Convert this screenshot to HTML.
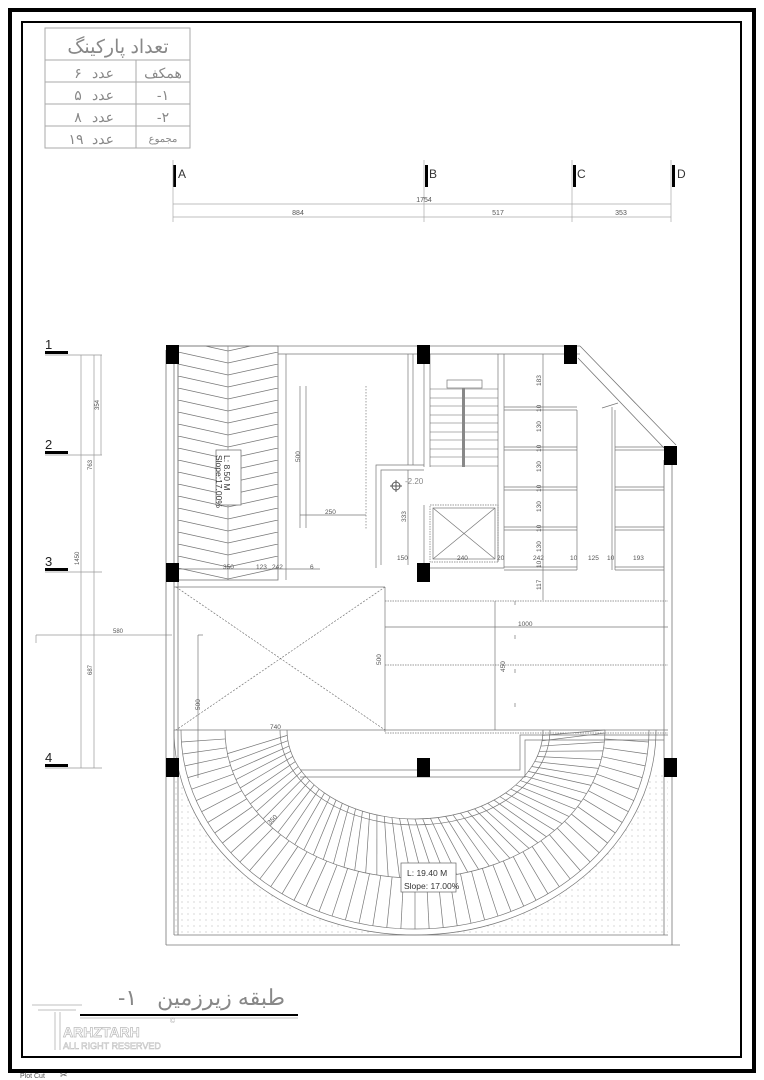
<!DOCTYPE html>
<html><head><meta charset="utf-8"><style>
html,body{margin:0;padding:0;background:#fff}
svg{display:block}
text{font-family:"Liberation Sans",sans-serif;fill:#555}
.fa{font-family:"Liberation Sans","Noto Sans CJK SC",sans-serif;fill:#888}
</style></head><body>
<svg id="s" width="764" height="1080" viewBox="0 0 764 1080" xmlns="http://www.w3.org/2000/svg">
<defs>
<pattern id="chev" x="178" y="340" width="100" height="12" patternUnits="userSpaceOnUse">
<path d="M0 0 L50 11 L100 0" fill="none" stroke="#777" stroke-width="0.8"/>
</pattern>
<pattern id="dots" width="6" height="6" patternUnits="userSpaceOnUse">
<circle cx="2" cy="2" r="0.6" fill="#bbb"/>
</pattern>
<clipPath id="outside"><path d="M174 730 A241 205 0 0 0 656 730 L668 730 L668 935 L174 935 Z" clip-rule="evenodd"/></clipPath>
</defs>
<rect width="764" height="1080" fill="#fff"/>
<rect x="10" y="10" width="744" height="1061" fill="none" stroke="#000" stroke-width="4"/>
<rect x="22" y="22" width="719" height="1035" fill="none" stroke="#000" stroke-width="2"/>
<text x="20" y="1078" font-size="7" fill="#666">Plot Cut</text><text x="60" y="1078" font-size="9" fill="#666">✂</text>

<g stroke="#aaa" stroke-width="1" fill="none">
<rect x="45" y="28" width="145" height="120"/>
<line x1="45" y1="60" x2="190" y2="60"/><line x1="45" y1="82" x2="190" y2="82"/>
<line x1="45" y1="104" x2="190" y2="104"/><line x1="45" y1="126" x2="190" y2="126"/>
<line x1="136" y1="60" x2="136" y2="148"/>
</g>
<g class="fa" text-anchor="middle">
<text x="118" y="53" font-size="19" class="fa">تعداد پارکینگ</text>
<text x="103" y="78" font-size="14" class="fa">عدد</text><text x="78" y="78" font-size="14" class="fa">۶</text><text x="163" y="78" font-size="14" class="fa">همکف</text>
<text x="103" y="100" font-size="14" class="fa">عدد</text><text x="78" y="100" font-size="14" class="fa">۵</text><text x="163" y="100" font-size="14" class="fa">-۱</text>
<text x="103" y="122" font-size="14" class="fa">عدد</text><text x="78" y="122" font-size="14" class="fa">۸</text><text x="163" y="122" font-size="14" class="fa">-۲</text>
<text x="103" y="144" font-size="14" class="fa">عدد</text><text x="76" y="144" font-size="14" class="fa">۱۹</text><text x="163" y="142" font-size="10" class="fa">مجموع</text>
</g>

<g fill="#000">
<rect x="173" y="165" width="3" height="22"/><rect x="425" y="165" width="3" height="22"/>
<rect x="573" y="165" width="3" height="22"/><rect x="672" y="165" width="3" height="22"/>
</g>
<g stroke="#aaa" stroke-width="0.7">
<line x1="173" y1="160" x2="173" y2="222"/><line x1="424" y1="160" x2="424" y2="222"/>
<line x1="572" y1="160" x2="572" y2="222"/><line x1="671" y1="160" x2="671" y2="222"/>
<line x1="173" y1="204" x2="671" y2="204"/><line x1="173" y1="217" x2="671" y2="217"/>
</g>
<g font-size="12"><text x="178" y="178" style="fill:#333">A</text><text x="429" y="178" style="fill:#333">B</text><text x="577" y="178" style="fill:#333">C</text><text x="677" y="178" style="fill:#333">D</text></g>
<g font-size="7" text-anchor="middle"><text x="424" y="202">1754</text><text x="298" y="215">884</text><text x="498" y="215">517</text><text x="621" y="215">353</text></g>

<g fill="#000"><rect x="45" y="351" width="23" height="3"/><rect x="45" y="451" width="23" height="3"/><rect x="45" y="568" width="23" height="3"/><rect x="45" y="764" width="23" height="3"/></g>
<g font-size="13"><text x="45" y="349" style="fill:#222">1</text><text x="45" y="449" style="fill:#222">2</text><text x="45" y="566" style="fill:#222">3</text><text x="45" y="762" style="fill:#222">4</text></g>
<g stroke="#999" stroke-width="0.7" fill="none">
<line x1="45" y1="355" x2="102" y2="355"/><line x1="45" y1="455" x2="102" y2="455"/>
<line x1="45" y1="572" x2="102" y2="572"/><line x1="45" y1="768" x2="102" y2="768"/>
<line x1="81" y1="355" x2="81" y2="768"/><line x1="94" y1="355" x2="94" y2="768"/><line x1="101" y1="355" x2="101" y2="455"/>
<line x1="36" y1="635" x2="172" y2="635"/><line x1="36" y1="635" x2="36" y2="643"/>
</g>
<g font-size="6"><text transform="translate(99,410) rotate(-90)">354</text><text transform="translate(92,470) rotate(-90)">763</text><text transform="translate(79,565) rotate(-90)">1450</text><text transform="translate(92,675) rotate(-90)">687</text><text x="113" y="633">580</text></g>

<g stroke="#777" stroke-width="0.8" fill="none">
<line x1="166" y1="350" x2="166" y2="945"/><line x1="178" y1="350" x2="178" y2="935"/>
<line x1="166" y1="945" x2="680" y2="945"/><line x1="174" y1="935" x2="668" y2="935"/>
<line x1="174" y1="346" x2="580" y2="346"/><line x1="278" y1="354" x2="580" y2="354"/>
<line x1="580" y1="346" x2="676" y2="445"/><line x1="578" y1="358" x2="664" y2="448"/>
<line x1="672" y1="450" x2="672" y2="945"/><line x1="664" y1="460" x2="664" y2="935"/>
<line x1="174" y1="346" x2="174" y2="935"/>
</g>
<rect x="178" y="346" width="100" height="234" fill="url(#chev)" stroke="#777" stroke-width="0.8"/>
<line x1="228" y1="346" x2="228" y2="580" stroke="#888" stroke-width="0.7"/>
<rect x="216" y="450" width="25" height="55" fill="#fff" stroke="#666" stroke-width="0.7"/>
<text transform="translate(224,455) rotate(90)" font-size="8.5" style="fill:#333">L: 8.50 M</text>
<text transform="translate(216,455) rotate(90)" font-size="8.5" style="fill:#333">Slope:17.00%</text>

<g stroke="#777" stroke-width="0.7" fill="none">
<line x1="286" y1="354" x2="286" y2="580"/>
<line x1="300" y1="386" x2="300" y2="528"/><line x1="306" y1="386" x2="306" y2="528"/>
<line x1="366" y1="386" x2="366" y2="530" stroke-dasharray="1.5 1.5"/>
<line x1="300" y1="515" x2="366" y2="515"/>
<line x1="176" y1="569" x2="320" y2="569"/>
<line x1="408" y1="354" x2="408" y2="465"/><line x1="413" y1="354" x2="413" y2="465"/>
<polyline points="376,568 376,465 424,465"/><polyline points="381,565 381,470 424,470"/>
<line x1="408" y1="470" x2="408" y2="565"/>
<line x1="424" y1="354" x2="424" y2="467"/><line x1="430" y1="354" x2="430" y2="467"/>
<polyline points="424,505 424,568 504,568 504,354"/><line x1="498" y1="354" x2="498" y2="562"/>
<rect x="430" y="505" width="68" height="57" stroke-dasharray="1.5 1"/>
<rect x="433" y="508" width="62" height="51"/>
<line x1="433" y1="508" x2="495" y2="559"/><line x1="495" y1="508" x2="433" y2="559"/>
<rect x="447" y="380" width="35" height="8"/>
</g>
<g stroke="#666" stroke-width="0.6">
<line x1="430" y1="389" x2="498" y2="389"/><line x1="430" y1="398" x2="498" y2="398"/><line x1="430" y1="406" x2="498" y2="406"/><line x1="430" y1="415" x2="498" y2="415"/><line x1="430" y1="423" x2="498" y2="423"/><line x1="430" y1="432" x2="498" y2="432"/><line x1="430" y1="440" x2="498" y2="440"/><line x1="430" y1="449" x2="498" y2="449"/><line x1="430" y1="457" x2="498" y2="457"/><line x1="430" y1="466" x2="498" y2="466"/>
</g>
<rect x="462" y="388" width="3" height="79" fill="#888"/>
<circle cx="396" cy="486" r="4" fill="none" stroke="#555"/><line x1="390" y1="486" x2="402" y2="486" stroke="#555"/><line x1="396" y1="480" x2="396" y2="492" stroke="#555"/>
<text x="405" y="484" font-size="8" style="fill:#888">-2.20</text>
<g stroke="#777" stroke-width="0.7" fill="none">
<line x1="504" y1="407" x2="577" y2="407"/><line x1="504" y1="447" x2="577" y2="447"/><line x1="504" y1="487" x2="577" y2="487"/><line x1="504" y1="527" x2="577" y2="527"/><line x1="504" y1="567" x2="577" y2="567"/>
<line x1="504" y1="410" x2="577" y2="410"/><line x1="504" y1="450" x2="577" y2="450"/><line x1="504" y1="490" x2="577" y2="490"/><line x1="504" y1="530" x2="577" y2="530"/><line x1="504" y1="570" x2="577" y2="570"/>
<line x1="577" y1="410" x2="577" y2="570"/><line x1="543" y1="354" x2="543" y2="600"/>
<line x1="612" y1="407" x2="612" y2="570"/><line x1="615" y1="410" x2="615" y2="570"/>
<line x1="615" y1="447" x2="664" y2="447"/><line x1="615" y1="487" x2="664" y2="487"/><line x1="615" y1="527" x2="664" y2="527"/><line x1="615" y1="567" x2="664" y2="567"/>
<line x1="615" y1="450" x2="664" y2="450"/><line x1="615" y1="490" x2="664" y2="490"/><line x1="615" y1="530" x2="664" y2="530"/><line x1="615" y1="570" x2="664" y2="570"/>
<line x1="602" y1="408" x2="618" y2="403"/>
</g>
<g font-size="6.5">
<text transform="translate(541,386) rotate(-90)">183</text><text transform="translate(541,412) rotate(-90)">10</text><text transform="translate(541,432) rotate(-90)">130</text><text transform="translate(541,452) rotate(-90)">10</text><text transform="translate(541,472) rotate(-90)">130</text><text transform="translate(541,492) rotate(-90)">10</text><text transform="translate(541,512) rotate(-90)">130</text><text transform="translate(541,532) rotate(-90)">10</text><text transform="translate(541,552) rotate(-90)">130</text><text transform="translate(541,568) rotate(-90)">10</text><text transform="translate(541,590) rotate(-90)">117</text>
<text x="397" y="560">150</text><text x="457" y="560">240</text><text x="497" y="560">20</text><text x="533" y="560">242</text><text x="570" y="560">10</text><text x="588" y="560">125</text><text x="607" y="560">10</text><text x="633" y="560">193</text>
<text transform="translate(406,522) rotate(-90)">333</text><text transform="translate(300,462) rotate(-90)">500</text><text x="325" y="514">250</text>
<text x="223" y="569">350</text><text x="256" y="569">123</text><text x="272" y="569">242</text><text x="310" y="569">6</text>
</g>
<g stroke="#777" stroke-width="0.7" fill="none">
<line x1="174" y1="587" x2="385" y2="587"/><line x1="385" y1="587" x2="385" y2="732"/>
<line x1="176" y1="587" x2="385" y2="730" stroke-dasharray="2 1.5"/><line x1="385" y1="587" x2="176" y2="730" stroke-dasharray="2 1.5"/>
<line x1="385" y1="601" x2="668" y2="601" stroke-dasharray="1.5 1"/>
<line x1="385" y1="627" x2="668" y2="627"/>
<line x1="385" y1="665" x2="668" y2="665" stroke-dasharray="1.5 1"/>
<line x1="174" y1="730" x2="668" y2="730"/><line x1="385" y1="733" x2="668" y2="733" stroke-dasharray="1.5 1"/>
<line x1="495" y1="601" x2="495" y2="730"/><line x1="515" y1="601" x2="515" y2="730" stroke-dasharray="4 30"/>
<line x1="198" y1="635" x2="198" y2="778"/><line x1="198" y1="635" x2="203" y2="635"/>
<polyline points="300,770 520,770 520,735 668,735"/><polyline points="300,777 525,777 525,740 664,740"/>
</g>
<g font-size="6.5"><text x="518" y="626">1000</text><text transform="translate(381,665) rotate(-90)">500</text><text transform="translate(505,672) rotate(-90)">450</text><text transform="translate(200,710) rotate(-90)">500</text><text x="270" y="729">740</text><text transform="translate(270,825) rotate(-45)">350</text></g>
<rect x="174" y="775" width="494" height="160" fill="url(#dots)" clip-path="url(#outside)"/>
<g id="ramp" stroke="#777" stroke-width="0.7" fill="none">
<path d="M174 730 A241 205 0 0 0 656 730"/><path d="M181 730 A234 199 0 0 0 649 730"/>
<path d="M280 730 A135 95 0 0 0 550 730"/><path d="M287 730 A128 89 0 0 0 543 730"/>
<path d="M225 730 A190 148 0 0 0 605 730"/>
</g>
<rect x="401" y="863" width="55" height="29" fill="#fff" stroke="#666" stroke-width="0.7"/>
<text x="407" y="876" font-size="8.5" style="fill:#333">L: 19.40 M</text>
<text x="404" y="889" font-size="8.5" style="fill:#333">Slope: 17.00%</text>

<g fill="#000">
<rect x="166" y="345" width="13" height="19"/><rect x="417" y="345" width="13" height="19"/><rect x="564" y="345" width="13" height="19"/>
<rect x="664" y="446" width="13" height="19"/>
<rect x="166" y="563" width="13" height="19"/><rect x="417" y="563" width="13" height="19"/>
<rect x="166" y="758" width="13" height="19"/><rect x="417" y="758" width="13" height="19"/><rect x="664" y="758" width="13" height="19"/>
</g>

<text x="285" y="1005" font-size="22" class="fa" text-anchor="end">طبقه زیرزمین</text>
<text x="118" y="1005" font-size="22" class="fa">-۱</text>
<rect x="80" y="1014" width="218" height="2" fill="#000"/><line x1="80" y1="1018" x2="298" y2="1018" stroke="#888" stroke-width="0.6"/>
<g fill="none" stroke="#ccc" stroke-width="1.2">
<line x1="32" y1="1005" x2="82" y2="1005"/><line x1="38" y1="1010" x2="76" y2="1010"/>
<line x1="55" y1="1012" x2="55" y2="1050"/><line x1="60" y1="1012" x2="60" y2="1050"/>
</g>
<text x="63" y="1037" font-size="14" font-weight="bold" stroke="#bbb" stroke-width="0.7" style="fill:none">ARHZTARH</text>
<text x="63" y="1049" font-size="9" stroke="#bbb" stroke-width="0.5" style="fill:none">ALL RIGHT RESERVED</text>
<text x="170" y="1023" font-size="7" style="fill:#aaa">©</text>
</svg>
<script>
(function(){
var g=document.getElementById('ramp'),cx=415,cy=730,N=52,ns='http://www.w3.org/2000/svg';
function ln(a,b,c,d){var l=document.createElementNS(ns,'line');l.setAttribute('x1',a);l.setAttribute('y1',b);l.setAttribute('x2',c);l.setAttribute('y2',d);g.appendChild(l);}
for(var i=1;i<N;i++){var t=Math.PI*i/N,c=Math.cos(t),s=Math.sin(t);
 var x1=cx-128*c,y1=cy+89*s,x2=cx-190*c,y2=cy+148*s,x3=cx-234*c,y3=cy+199*s;
 var t2=Math.min(Math.PI,t+0.1);var xs=cx-190*Math.cos(t2),ys=cy+148*Math.sin(t2);
 ln(x1,y1,xs,ys);ln(x2,y2,x3,y3);}
})();
</script>
</body></html>
